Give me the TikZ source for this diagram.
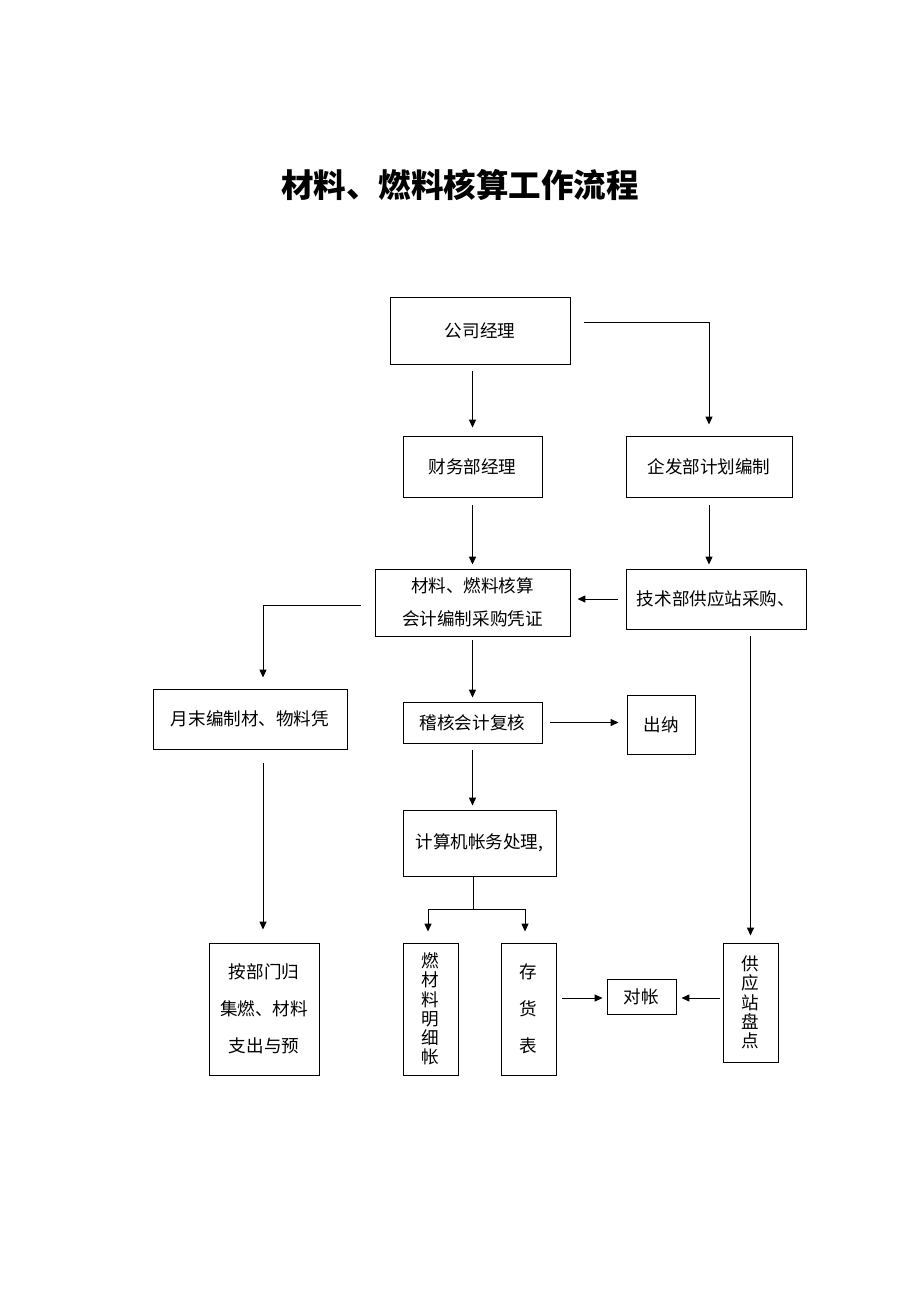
\documentclass[tikz,border=0pt]{standalone}
\usepackage{fontspec}
\setmainfont{Noto Sans CJK SC}
\usepackage{tikz}
\usetikzlibrary{arrows.meta,calc}

\begin{document}
\begin{tikzpicture}[x=0.02cm, y=-0.02cm,
  box/.style={draw, line width=0.55pt, inner sep=0pt, align=center,
    font=\fontsize{10pt}{12pt}\selectfont},
  arr/.style={line width=0.55pt, -{Triangle[length=4.5pt,width=4pt]}},
  link/.style={line width=0.55pt}]
\useasboundingbox (0,0) rectangle (920,1302);

% Title
\node[font=\fontsize{18.5pt}{22pt}\selectfont\bfseries] (title) at (460,185) {材料、燃料核算工作流程};

% Top level
\node[box, minimum width=3.6cm, minimum height=1.34cm] (gm) at (480,330.5) {公司经理};
\node[box, minimum width=2.78cm, minimum height=1.22cm] (fm) at (472.5,466.5) {财务部经理};
\node[box, minimum width=3.32cm, minimum height=1.22cm] (plan) at (709,466.5) {企发部计划编制};

% Accounting and purchasing
\node[box, minimum width=3.9cm, minimum height=1.34cm,
  font=\fontsize{10pt}{18.7pt}\selectfont] (acct) at (472.5,602.5) {材料、燃料核算\\会计编制采购凭证};
\node[box, minimum width=3.6cm, minimum height=1.2cm] (tech) at (716,599) {技术部供应站采购、};
\node[box, minimum width=3.88cm, minimum height=1.2cm] (month) at (250,719) {月末编制材、物料凭};
\node[box, minimum width=2.78cm, minimum height=0.82cm] (audit) at (472.5,722.5) {稽核会计复核};
\node[box, minimum width=1.36cm, minimum height=1.18cm] (cash) at (661,724.5) {出纳};
\node[box, minimum width=3.06cm, minimum height=1.32cm] (comp) at (479.5,843) {计算机帐务处理,};

% Bottom row
\node[box, minimum width=2.2cm, minimum height=2.64cm,
  font=\fontsize{10pt}{21pt}\selectfont] (dept) at (264,1009) {按部门归\\集燃、材料\\支出与预};
\node[box, minimum width=1.1cm, minimum height=2.64cm,
  font=\fontsize{10pt}{10.9pt}\selectfont] (ledger) at (430.5,1009) {燃\\材\\料\\明\\细\\帐};
\node[box, minimum width=1.1cm, minimum height=2.64cm,
  font=\fontsize{10pt}{21pt}\selectfont] (stock) at (528.5,1009) {存\\货\\表};
\node[box, minimum width=1.38cm, minimum height=0.7cm] (check) at (641.5,996.5) {对帐};
\node[box, minimum width=1.1cm, minimum height=2.38cm,
  font=\fontsize{10pt}{11pt}\selectfont] (count) at (750.5,1002.5) {供\\应\\站\\盘\\点};

% Connectors
\draw[arr, shorten <=0.14cm, shorten >=0.16cm] (fm.north |- gm.south) -- (fm.north);
\draw[arr, shorten >=0.22cm] ([xshift=0.28cm,yshift=0.17cm]gm.east) -| (plan.north);
\draw[arr, shorten <=0.16cm, shorten >=0.08cm] (fm.south) -- (acct.north);
\draw[arr, shorten <=0.16cm, shorten >=0.08cm] (plan.south) -- (plan.south |- tech.north);
\draw[arr, shorten <=0.16cm, shorten >=0.14cm] (tech.west) -- (tech.west -| acct.east);
\draw[arr, shorten >=0.22cm] ([xshift=-0.28cm,yshift=-0.05cm]acct.west) -| ([xshift=0.26cm]month.north);
\draw[arr, shorten <=0.08cm, shorten >=0.08cm] (acct.south) -- (audit.north);
\draw[arr, shorten <=0.16cm, shorten >=0.16cm] (audit.east) -- (audit.east -| cash.west);
\draw[arr, shorten <=0.14cm, shorten >=0.14cm] (count.north |- tech.south) -- (count.north);
\draw[arr, shorten <=0.14cm, shorten >=0.08cm] (audit.south) -- (audit.south |- comp.north);
\coordinate (split) at (473,909);
\draw[link] (comp.south -| split) -- (split);
\draw[arr, shorten >=0.22cm] (split) -| ([xshift=-0.05cm]ledger.north);
\draw[arr, shorten >=0.22cm] (split) -| ([xshift=-0.07cm]stock.north);
\draw[arr, shorten <=0.28cm, shorten >=0.26cm] ([xshift=-0.02cm]dept.north |- month.south) -- ([xshift=-0.02cm]dept.north);
\draw[arr, shorten <=0.12cm, shorten >=0.08cm] ([yshift=-0.03cm]check.west -| stock.east) -- ([yshift=-0.03cm]check.west);
\draw[arr, shorten <=0.06cm, shorten >=0.1cm] ([yshift=-0.03cm]check.east -| count.west) -- ([yshift=-0.03cm]check.east);
\end{tikzpicture}
\end{document}
